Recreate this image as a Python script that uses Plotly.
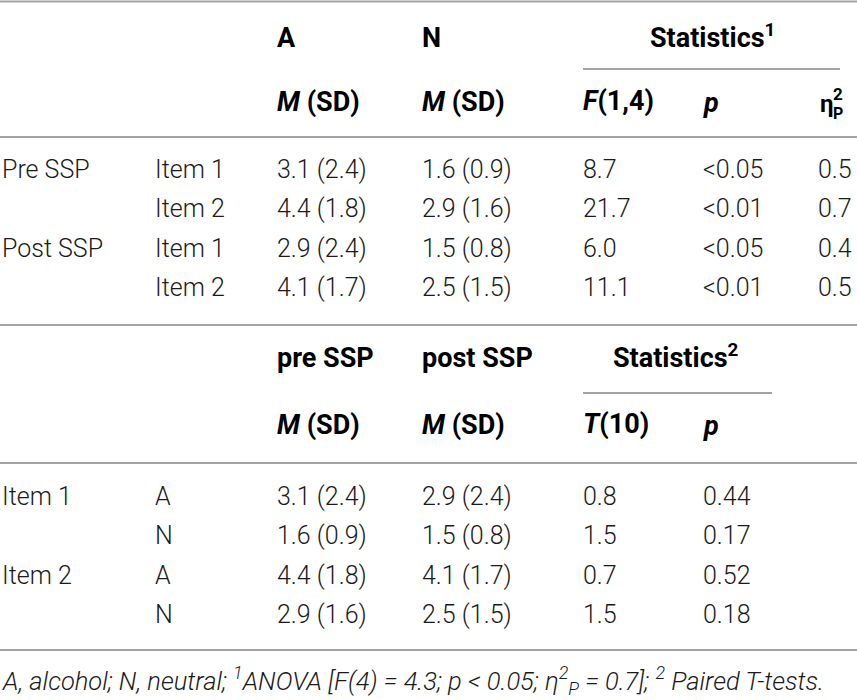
import plotly.graph_objects as go

# ---------------- data ----------------
block1_group = ["Pre SSP", "", "Post SSP", ""]
block1_item = ["Item 1", "Item 2", "Item 1", "Item 2"]
A_mean = [3.1, 4.4, 2.9, 4.1]
A_sd = [2.4, 1.8, 2.4, 1.7]
N_mean = [1.6, 2.9, 1.5, 2.5]
N_sd = [0.9, 1.6, 0.8, 1.5]
F_vals = [8.7, 21.7, 6.0, 11.1]
p1_vals = ["<0.05", "<0.01", "<0.05", "<0.01"]
eta_vals = [0.5, 0.7, 0.4, 0.5]

block2_group = ["Item 1", "", "Item 2", ""]
block2_cond = ["A", "N", "A", "N"]
pre_mean = [3.1, 1.6, 4.4, 2.9]
pre_sd = [2.4, 0.9, 1.8, 1.6]
post_mean = [2.9, 1.5, 4.1, 2.5]
post_sd = [2.4, 0.8, 1.7, 1.5]
T_vals = [0.8, 1.5, 0.7, 1.5]
p2_vals = [0.44, 0.17, 0.52, 0.18]

footnote = ("<i>A, alcohol; N, neutral; <sup>1</sup>ANOVA [F(4) = 4.3; p &lt; 0.05; "
            "η<sup>2</sup><sub>P</sub> = 0.7]; <sup>2</sup> Paired T-tests.</i>")

# ---------------- layout geometry ----------------
W, H = 857, 700
col_x = [0, 153, 275, 420, 581, 701, 816]
rows1_y = [169, 208, 248, 287]
rows2_y = [496, 535, 575, 614]

BODY_FONT = "Roboto"
HEAD_FONT = "Roboto"
TXT = "#1a1a1a"
LINE = "#a3a3a3"

fig = go.Figure()
fig.add_trace(go.Scatter(x=[0, W], y=[0, H], mode="markers",
                         marker=dict(opacity=0), hoverinfo="skip", showlegend=False))

ann = []


def body(x, y, text, size=25):
    ann.append(dict(x=x, y=y, text=text, xref="x", yref="y", showarrow=False,
                    xanchor="left", yanchor="middle",
                    font=dict(family=BODY_FONT, size=size, color=TXT, weight=300)))


def head(x, y, text, size=27, xanchor="left"):
    ann.append(dict(x=x, y=y, text=text, xref="x", yref="y", showarrow=False,
                    xanchor=xanchor, yanchor="middle",
                    font=dict(family=HEAD_FONT, size=size, color="#000000", weight=700)))


def fmt(m, s):
    return f"{m:.1f} ({s:.1f})"


# block 1 headers
head(col_x[2], 38, "A")
head(col_x[3], 38, "N")
head(712, 36, "Statistics<sup>1</sup>", xanchor="center")
head(col_x[2], 102, "<i>M</i> (SD)")
head(col_x[3], 102, "<i>M</i> (SD)")
head(col_x[4], 101, "<i>F</i>(1,4)")
head(col_x[5], 103, "<i>p</i>")
head(col_x[6] + 2, 104, "η", size=24)
head(col_x[6] + 15, 94, "2", size=17)
head(col_x[6] + 15, 113, "P", size=16)

# block 1 rows
for i, y in enumerate(rows1_y):
    if block1_group[i]:
        body(col_x[0], y, block1_group[i])
    body(col_x[1], y, block1_item[i])
    body(col_x[2], y, fmt(A_mean[i], A_sd[i]))
    body(col_x[3], y, fmt(N_mean[i], N_sd[i]))
    body(col_x[4], y, f"{F_vals[i]:.1f}")
    body(col_x[5], y, p1_vals[i].replace("<", "&lt;"))
    body(col_x[6], y, f"{eta_vals[i]:.1f}")

# block 2 headers
head(col_x[2], 358, "pre SSP")
head(col_x[3], 358, "post SSP")
head(676, 356, "Statistics<sup>2</sup>", xanchor="center")
head(col_x[2], 425, "<i>M</i> (SD)")
head(col_x[3], 425, "<i>M</i> (SD)")
head(col_x[4], 424, "<i>T</i>(10)")
head(col_x[5], 426, "<i>p</i>")

# block 2 rows
for i, y in enumerate(rows2_y):
    if block2_group[i]:
        body(col_x[0], y, block2_group[i])
    body(col_x[1], y, block2_cond[i])
    body(col_x[2], y, fmt(pre_mean[i], pre_sd[i]))
    body(col_x[3], y, fmt(post_mean[i], post_sd[i]))
    body(col_x[4], y, f"{T_vals[i]:.1f}")
    body(col_x[5], y, f"{p2_vals[i]:.2f}")

# footnote
ann.append(dict(x=col_x[0], y=680, text=footnote, xref="x", yref="y", showarrow=False,
                xanchor="left", yanchor="middle",
                font=dict(family=BODY_FONT, size=25.5, color=TXT, weight=300)))

# rules
rules = [(0, W, 1.5), (583, 840, 69), (0, W, 137), (0, W, 325),
         (583, 772, 393), (0, W, 463), (0, W, 650)]
shapes = [dict(type="line", xref="x", yref="y", x0=a, x1=b, y0=y, y1=y,
               line=dict(color=LINE, width=2.2)) for a, b, y in rules]

fig.update_layout(
    width=W, height=H, margin=dict(l=0, r=0, t=0, b=0),
    paper_bgcolor="white", plot_bgcolor="white",
    xaxis=dict(range=[0, W], visible=False, fixedrange=True),
    yaxis=dict(range=[H, 0], visible=False, fixedrange=True),
    annotations=ann, shapes=shapes, showlegend=False,
)

fig.write_html("out.html", config={"displayModeBar": False},
               post_script="document.body.style.margin='0px';document.body.style.overflow='hidden';")
